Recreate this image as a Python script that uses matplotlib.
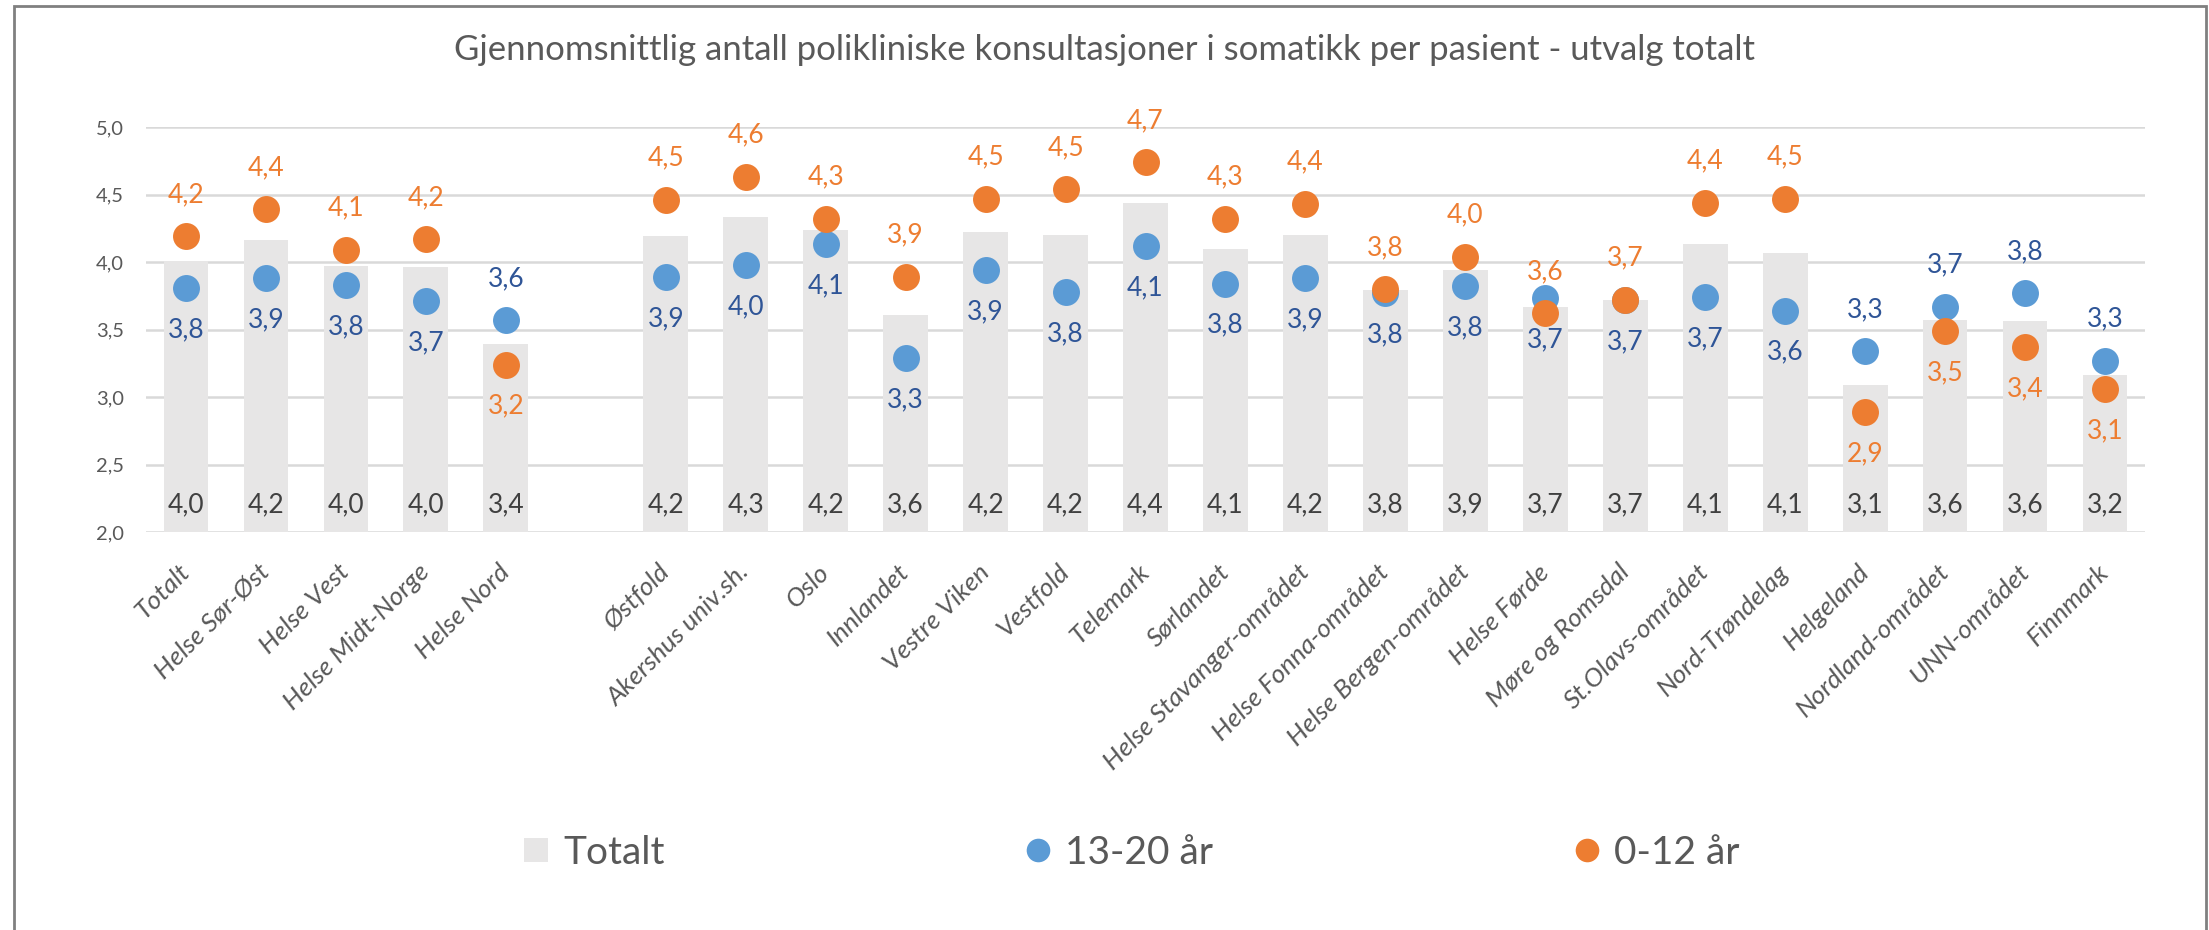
import numpy as np
import matplotlib
matplotlib.use("Agg")
import matplotlib.pyplot as plt
from matplotlib.lines import Line2D
from matplotlib.patches import Rectangle

plt.rcParams['font.family'] = ['Lato', 'DejaVu Sans']

categories = ["Totalt", "Helse Sør-Øst", "Helse Vest", "Helse Midt-Norge", "Helse Nord", "",
              "Østfold", "Akershus univ.sh.", "Oslo", "Innlandet", "Vestre Viken", "Vestfold",
              "Telemark", "Sørlandet", "Helse Stavanger-området", "Helse Fonna-området",
              "Helse Bergen-området", "Helse Førde", "Møre og Romsdal", "St.Olavs-området",
              "Nord-Trøndelag", "Helgeland", "Nordland-området", "UNN-området", "Finnmark"]

totalt = [4.01, 4.16, 3.97, 3.96, 3.39, np.nan,
          4.19, 4.33, 4.24, 3.61, 4.22, 4.20, 4.44, 4.10, 4.20, 3.79, 3.94, 3.67, 3.72,
          4.13, 4.07, 3.09, 3.57, 3.56, 3.16]
aar_13_20 = [3.81, 3.88, 3.83, 3.71, 3.57, np.nan,
             3.89, 3.98, 4.13, 3.29, 3.94, 3.78, 4.12, 3.84, 3.88, 3.77, 3.82, 3.73, 3.72,
             3.74, 3.64, 3.34, 3.67, 3.77, 3.27]
aar_0_12 = [4.19, 4.39, 4.09, 4.17, 3.24, np.nan,
            4.46, 4.63, 4.32, 3.89, 4.47, 4.54, 4.74, 4.32, 4.43, 3.80, 4.04, 3.62, 3.72,
            4.44, 4.47, 2.89, 3.49, 3.37, 3.06]

# categories where the 13-20 label sits above and the 0-12 label below
blue_label_above = {"Helse Nord", "Helgeland", "Nordland-området", "UNN-området", "Finnmark"}

title = "Gjennomsnittlig antall polikliniske konsultasjoner i somatikk per pasient - utvalg totalt"

BAR = "#E7E6E6"
BLUE = "#5B9BD5"
ORANGE = "#ED7D31"
DBLUE = "#2F5597"
GRAY = "#595959"

W, H = 2209, 930
fig = plt.figure(figsize=(W / 100, H / 100), dpi=100)
ax = fig.add_axes([146 / W, 1 - 532 / H, (2145 - 146) / W, (532 - 127) / H])

x = np.arange(len(categories))
ax.bar(x, totalt, width=0.56, color=BAR, zorder=2, bottom=0)
ax.plot(x, aar_13_20, 'o', color=BLUE, markersize=19.4, zorder=3, markeredgewidth=0)
ax.plot(x, aar_0_12, 'o', color=ORANGE, markersize=19.4, zorder=4, markeredgewidth=0)

ax.set_ylim(2.0, 5.0)
ax.set_xlim(-0.5, len(categories) - 0.5)
ax.set_yticks(np.arange(2.0, 5.01, 0.5))
ax.set_yticklabels([f"{v:.1f}".replace('.', ',') for v in np.arange(2.0, 5.01, 0.5)])
ax.grid(axis='y', color="#D9D9D9", linewidth=1.8, zorder=0)
ax.set_axisbelow(True)
for s in ax.spines.values():
    s.set_visible(False)
ax.tick_params(axis='both', length=0, colors=GRAY)
ax.tick_params(axis='y', labelsize=14.5, pad=16)
ax.set_xticks(x)
ax.set_xticklabels(categories, rotation=45, ha='right', va='center',
                   rotation_mode='anchor', fontsize=19, style='italic', color=GRAY)
ax.tick_params(axis='x', pad=26)

fmt = lambda v: f"{v:.1f}".replace('.', ',')
off = 30
for i, cat in enumerate(categories):
    if np.isnan(totalt[i]):
        continue
    ax.text(i, 2.2, fmt(totalt[i]), ha='center', va='center', fontsize=19, color="#404040", zorder=5)
    up = cat in blue_label_above
    ax.annotate(fmt(aar_13_20[i]), (i, aar_13_20[i]), xytext=(0, off if up else -off),
                textcoords='offset points', ha='center', va='center', fontsize=19, color=DBLUE, zorder=5)
    ax.annotate(fmt(aar_0_12[i]), (i, aar_0_12[i]), xytext=(0, -off if up else off),
                textcoords='offset points', ha='center', va='center', fontsize=19, color=ORANGE, zorder=5)

fig.text(0.5, 1 - 50 / H, title, ha='center', va='center', fontsize=25, color=GRAY)

handles = [Line2D([], [], linestyle='none', marker='s', markersize=17, color=BAR, markeredgewidth=0),
           Line2D([], [], linestyle='none', marker='o', markersize=17, color=BLUE, markeredgewidth=0),
           Line2D([], [], linestyle='none', marker='o', markersize=17, color=ORANGE, markeredgewidth=0)]
leg = fig.legend(handles, ["Totalt", "13-20 år", "0-12 år"], loc='center',
                 bbox_to_anchor=(1130 / W, 1 - 853 / H), ncol=3, frameon=False,
                 fontsize=28, columnspacing=9.2, handlelength=0.8, handletextpad=0.3)
for t in leg.get_texts():
    t.set_color(GRAY)

fig.patches.append(Rectangle((14 / W, -0.01), (2206 - 14) / W, 1 - 6 / H + 0.01,
                             transform=fig.transFigure, fill=False, edgecolor="#808080",
                             linewidth=2))

fig.savefig("out.png", dpi=100)
